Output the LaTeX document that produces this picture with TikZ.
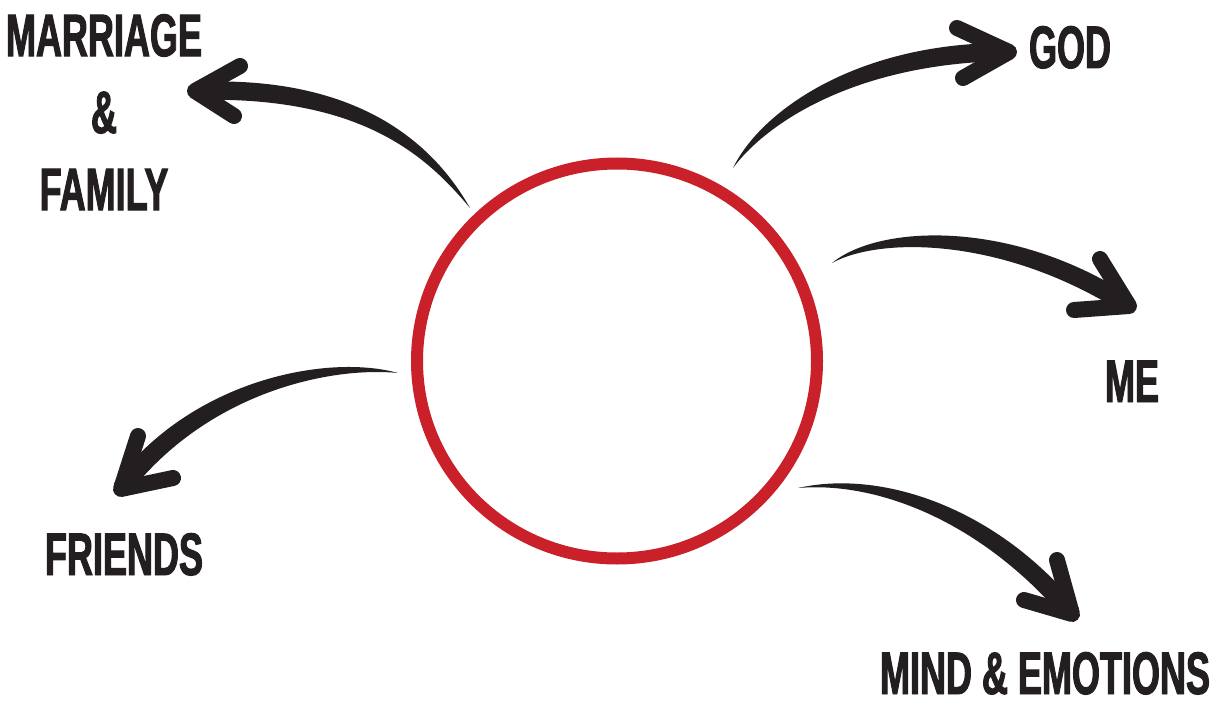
\documentclass[tikz,border=0pt]{standalone}
\usepackage{fontspec}
\usetikzlibrary{calc,shapes.geometric}
\newfontfamily\bebas{Liberation Sans}[FakeStretch=0.6,FakeBold=1.6]
\definecolor{ink}{HTML}{231F20}
\definecolor{ringred}{HTML}{C9202A}
\tikzset{
  label/.style={font=\bebas\bfseries\fontsize{60}{77}\selectfont, text=ink, inner sep=0pt},
  barb/.style={draw=ink, line width=16pt, line cap=round, line join=round},
  ring/.style={draw=ringred, line width=12pt, ellipse, minimum width=400pt, minimum height=395pt, inner sep=0pt}
}
\newcommand\brusharrow[1]{%
  \fill[ink] (#1t) .. controls ($(#11)!6.5pt!-90:(#12)$) and ($(#12)!10.5pt!-90:(#1h)$) .. ($(#1h)!9pt!90:(#12)$)
    -- ($(#1h)!9pt!-90:(#12)$) .. controls ($(#12)!10.5pt!90:(#1h)$) and ($(#11)!6.5pt!90:(#12)$) .. (#1t) -- cycle;
  \draw[barb] (#1u) -- (#1h) -- (#1l);
}
\begin{document}
\begin{tikzpicture}[x=1pt,y=-1pt]
\useasboundingbox (0,0) rectangle (1229,706);
\fill[white] (0,0) rectangle (1229,706);
\node[ring] (hub) at (617,361) {};
% labels
\node[label, align=center, anchor=north] (marriage) at (104,14) {MARRIAGE\\\&\\FAMILY};
\node[label, anchor=base] (god) at (1070,68) {GOD};
\node[label, anchor=base] (me) at (1132,402) {ME};
\node[label, anchor=base] (friends) at (124,575) {FRIENDS};
\node[label, anchor=base] (mind) at (1045,694) {MIND \& EMOTIONS};
% arrow to marriage
\coordinate (mt) at (470,208); \coordinate (m1) at (430,150); \coordinate (m2) at (360,85); \coordinate (mh) at (195,91);
\coordinate (mu) at (240,66); \coordinate (ml) at (234,116);
% arrow to god
\coordinate (gt) at (733,168); \coordinate (g1) at (765,115); \coordinate (g2) at (860,52); \coordinate (gh) at (1009,52);
\coordinate (gu) at (957,28); \coordinate (gl) at (963,78);
% arrow to me
\coordinate (et) at (832,263); \coordinate (e1) at (880,230); \coordinate (e2) at (1010,228); \coordinate (eh) at (1129,306);
\coordinate (eu) at (1100,259); \coordinate (el) at (1074,310);
% arrow to friends
\coordinate (ft) at (398,373); \coordinate (f1) at (330,360); \coordinate (f2) at (200,385); \coordinate (fh) at (121,489);
\coordinate (fu) at (138,436); \coordinate (fl) at (173,478);
% arrow to mind
\coordinate (dt) at (798,488); \coordinate (d1) at (880,475); \coordinate (d2) at (990,515); \coordinate (dh) at (1072,614);
\coordinate (du) at (1057,560); \coordinate (dl) at (1024,600);
\brusharrow{m}
\brusharrow{g}
\brusharrow{e}
\brusharrow{f}
\brusharrow{d}
\end{tikzpicture}
\end{document}
